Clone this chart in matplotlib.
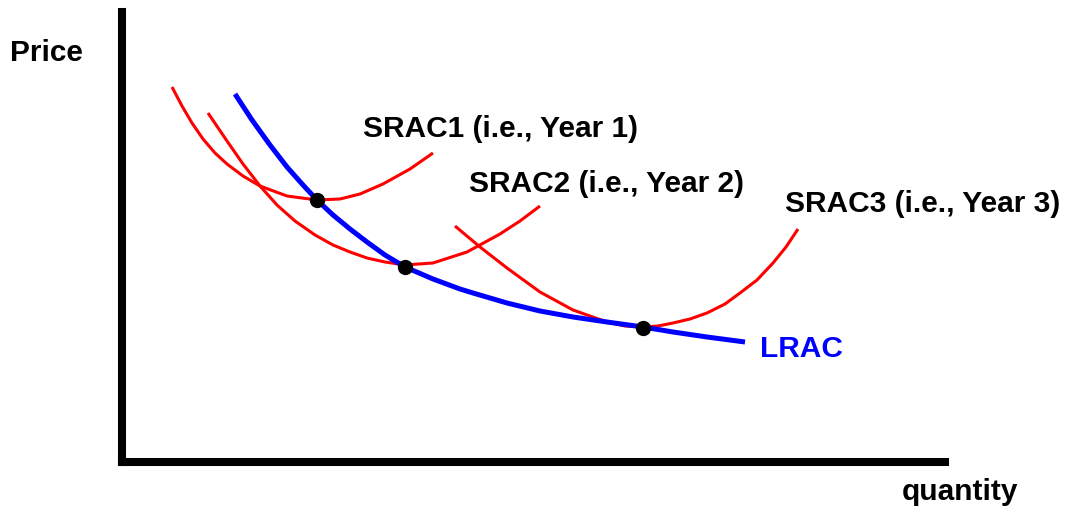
import matplotlib.pyplot as plt

# curve points (quantity, price in pixel-like units)
lrac_q = [113, 130, 148, 165, 181, 195, 211, 228, 245, 263, 283, 311, 338, 351, 385, 418, 451, 485, 521, 551, 585, 623]
lrac_p = [368, 342, 317, 295, 277, 262, 247, 233, 220, 207, 195, 183, 173, 169, 159, 151, 145, 140, 135, 130, 125, 120]

srac1_q = [50, 60, 70, 81, 93, 105, 121, 138, 165, 195, 218, 238, 261, 288, 311]
srac1_p = [375, 356, 339, 323, 309, 298, 286, 276, 266, 262, 263, 268, 278, 293, 309]

srac2_q = [86, 105, 121, 138, 155, 173, 193, 211, 228, 245, 263, 283, 311, 345, 378, 398, 418]
srac2_p = [349, 321, 298, 276, 257, 241, 227, 217, 210, 204, 200, 197, 199, 210, 228, 241, 256]

srac3_q = [333, 358, 385, 418, 451, 485, 503, 521, 536, 551, 568, 585, 603, 618, 635, 651, 664, 676]
srac3_p = [236, 215, 194, 170, 152, 140, 136, 135, 136, 139, 143, 149, 158, 169, 182, 199, 215, 233]

dots_q = [195, 283, 521]
dots_p = [262, 195, 134]

font = dict(family='Liberation Sans', fontweight='bold', fontsize=21.5)

fig = plt.figure(figsize=(10.7, 5.08), dpi=100)
ax = fig.add_axes([122 / 1070, 46 / 508, 823 / 1070, 450 / 508])
ax.set_xlim(0, 823)
ax.set_ylim(0, 450)

ax.plot(srac1_q, srac1_p, color='red', lw=2.2, solid_capstyle='butt', solid_joinstyle='round')
ax.plot(srac2_q, srac2_p, color='red', lw=2.2, solid_capstyle='butt', solid_joinstyle='round')
ax.plot(srac3_q, srac3_p, color='red', lw=2.2, solid_capstyle='butt', solid_joinstyle='round')
ax.plot(lrac_q, lrac_p, color='blue', lw=3.6, solid_capstyle='butt', solid_joinstyle='round')
ax.plot(dots_q, dots_p, 'o', color='black', ms=10, zorder=5)

ax.text(241, 325, 'SRAC1 (i.e., Year 1)', color='black', **font)
ax.text(347, 270, 'SRAC2 (i.e., Year 2)', color='black', **font)
ax.text(663, 250, 'SRAC3 (i.e., Year 3)', color='black', **font, clip_on=False)
ax.text(638, 105, 'LRAC', color='blue', **font)
ax.text(-112, 401, 'Price', color='black', **font, clip_on=False)
ax.text(780, -38, 'quantity', color='black', **font, clip_on=False)

for s in ['top', 'right']:
    ax.spines[s].set_visible(False)
for s in ['left', 'bottom']:
    ax.spines[s].set_linewidth(5.8)
    ax.spines[s].set_color('black')
ax.set_xticks([])
ax.set_yticks([])
ax.patch.set_alpha(0)

fig.savefig('out.png', dpi=100)
